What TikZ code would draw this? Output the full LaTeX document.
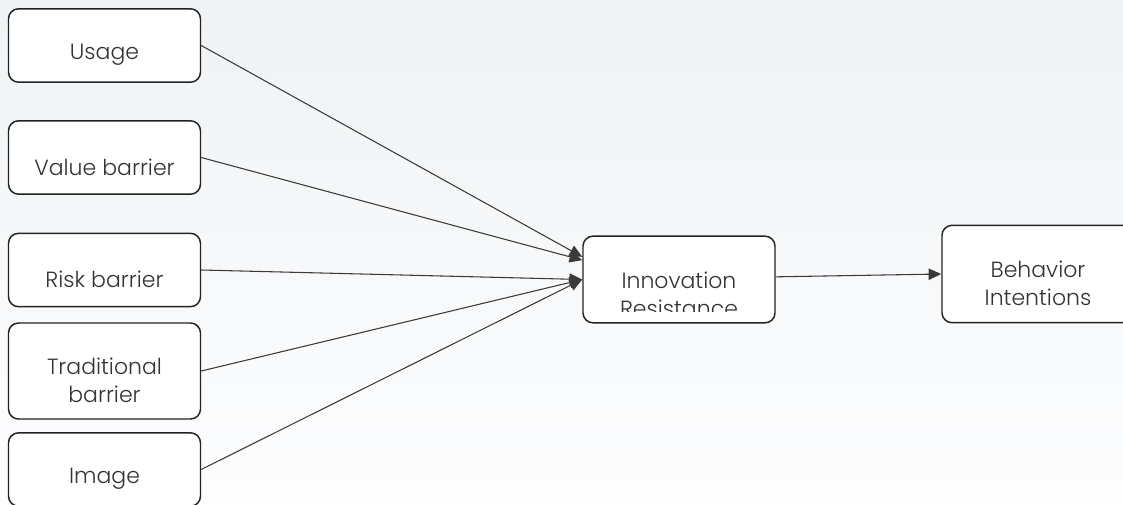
\documentclass[tikz,border=0pt]{standalone}
\usepackage{fontspec}
\setmainfont{Poppins}[UprightFont=* Light]
\usepackage{tikz}
\usetikzlibrary{arrows.meta,positioning,calc}
\definecolor{bgtop}{HTML}{EFF3F5}
\definecolor{bgbot}{HTML}{FDFDFE}
\definecolor{edge}{HTML}{222222}
\definecolor{linegray}{HTML}{3A3A3A}
\definecolor{txtgray}{HTML}{333333}

\begin{document}
\begin{tikzpicture}[
  x=0.75pt,y=-0.75pt,
  font=\fontsize{16.5}{21.5}\selectfont,
  box/.style={draw=edge,line width=1.1pt,fill=white,rounded corners=7.5pt,minimum width=144pt,minimum height=55pt,inner sep=0pt},
  txt/.style={align=center,text=txtgray,yshift=-7pt},
  arr/.style={-{Triangle[length=9.5pt,width=8.5pt]},draw=linegray,line width=0.8pt}
]
\useasboundingbox (0,0) rectangle (1123,504);
\clip (0,0) rectangle (1123,504);
\shade[top color=bgtop,bottom color=bgbot] (0,0) rectangle (1123,504);

% left column
\node[box,label={[txt]center:Usage}] (usage) at (104.5,45.5) {};
\node[box,label={[txt]center:Value barrier}] (value) at (104.5,157.5) {};
\node[box,label={[txt]center:Risk barrier}] (risk) at (104.5,270) {};
\node[box,minimum height=72pt,label={[txt]center:Traditional\\barrier}] (trad) at (104.5,371) {};
\node[box,label={[txt]center:Image}] (image) at (104.5,469.5) {};

% middle and right
\node[box,minimum height=65pt] (resist) at (679,279.5) {};
\begin{scope}
  \clip (583,238) rectangle (775,311);
  \node[align=center,text=txtgray,anchor=north] (resisttxt) at ([yshift=9.5pt]resist.center) {Innovation\\Resistance};
\end{scope}
\node[box,minimum height=73pt,label={[txt]center:Behavior\\Intentions}] (behav) at (1038,274) {};

\coordinate (inup) at ([yshift=17pt]resist.west);
\coordinate (inmid) at ([yshift=14.5pt]resist.west);

\draw[arr] (usage.east) -- (inup);
\draw[arr] (value.east) -- (inmid);
\draw[arr] (risk.east) -- (resist.west);
\draw[arr] (trad.east) -- (resist.west);
\draw[arr] (image.east) -- (resist.west);
\draw[arr] ([yshift=2pt]resist.east) -- (behav.west);
\end{tikzpicture}
\end{document}
